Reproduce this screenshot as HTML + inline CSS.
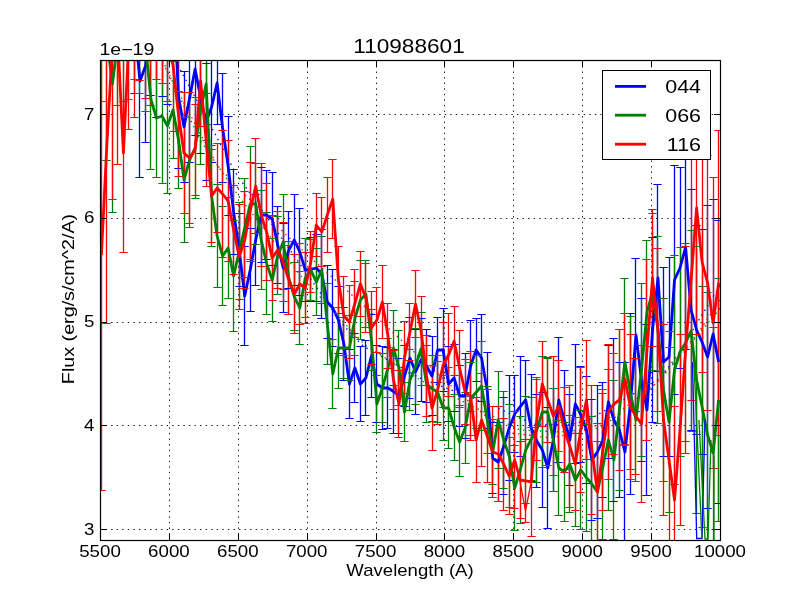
<!DOCTYPE html>
<html><head><meta charset="utf-8"><style>
html,body{margin:0;padding:0;background:#fff;}
svg{display:block;will-change:transform;}
text{font-family:"Liberation Sans",sans-serif;fill:#000;}
.tk{font-size:16px;}
.lg{font-size:19px;}
</style></head><body>
<svg width="800" height="600" viewBox="0 0 800 600">
<rect width="800" height="600" fill="#fff"/>
<defs><clipPath id="c"><rect x="100.0" y="60.0" width="620.0" height="480.0"/></clipPath></defs>
<path d="M169.5,540.0V60.0M238.5,540.0V60.0M307.5,540.0V60.0M376.5,540.0V60.0M444.5,540.0V60.0M513.5,540.0V60.0M582.5,540.0V60.0M651.5,540.0V60.0M100.0,529.5H720.0M100.0,425.5H720.0M100.0,322.5H720.0M100.0,218.5H720.0M100.0,114.5H720.0" stroke="#000" stroke-width="0.9" stroke-dasharray="1.4,4.16" fill="none"/>
<g clip-path="url(#c)">
<path d="M101.5,-156.5V-3.5M106.5,-161.5V11.5M112.5,-151.5V10.5M117.5,-154.5V22.5M123.5,-149.5V29.5M128.5,-90.5V50.5M134.5,-43.5V93.5M139.5,-15.5V177.5M145.5,-10.5V142.5M150.5,-55.5V95.5M156.5,-77.5V117.5M162.5,-56.5V96.5M167.5,-64.5V104.5M173.5,-90.5V50.5M178.5,25.5V168.5M184.5,71.5V182.5M189.5,33.5V162.5M195.5,2.5V135.5M200.5,42.5V153.5M206.5,63.5V180.5M211.5,51.5V162.5M217.5,41.5V124.5M222.5,73.5V182.5M228.5,116.5V215.5M233.5,169.5V254.5M239.5,213.5V286.5M244.5,246.5V345.5M250.5,228.5V311.5M255.5,194.5V285.5M261.5,167.5V262.5M266.5,170.5V259.5M272.5,172.5V265.5M277.5,206.5V283.5M283.5,223.5V312.5M288.5,211.5V288.5M294.5,194.5V285.5M299.5,208.5V295.5M305.5,238.5V301.5M310.5,237.5V301.5M316.5,234.5V301.5M321.5,229.5V318.5M327.5,265.5V338.5M332.5,269.5V346.5M338.5,286.5V353.5M343.5,307.5V380.5M349.5,349.5V418.5M354.5,333.5V402.5M360.5,346.5V421.5M365.5,340.5V415.5M371.5,314.5V397.5M376.5,345.5V422.5M382.5,346.5V429.5M387.5,347.5V428.5M393.5,349.5V433.5M398.5,358.5V433.5M404.5,345.5V406.5M409.5,317.5V398.5M415.5,329.5V414.5M421.5,318.5V401.5M426.5,329.5V402.5M432.5,336.5V415.5M437.5,317.5V382.5M443.5,308.5V391.5M448.5,346.5V421.5M454.5,344.5V411.5M459.5,365.5V426.5M465.5,353.5V438.5M470.5,320.5V411.5M476.5,318.5V381.5M481.5,314.5V401.5M487.5,352.5V428.5M492.5,422.5V493.5M498.5,422.5V501.5M503.5,397.5V494.5M509.5,375.5V480.5M514.5,375.5V452.5M520.5,356.5V456.5M525.5,360.5V439.5M531.5,374.5V481.5M536.5,394.5V487.5M542.5,392.5V507.5M547.5,407.5V528.5M553.5,388.5V491.5M558.5,337.5V462.5M564.5,370.5V469.5M569.5,394.5V485.5M575.5,344.5V463.5M580.5,366.5V462.5M586.5,376.5V483.5M591.5,399.5V520.5M597.5,385.5V518.5M602.5,382.5V497.5M608.5,345.5V458.5M613.5,338.5V501.5M619.5,362.5V497.5M624.5,362.5V541.5M630.5,313.5V494.5M635.5,258.5V411.5M641.5,298.5V461.5M646.5,324.5V495.5M652.5,237.5V422.5M657.5,184.5V371.5M663.5,267.5V456.5M669.5,257.5V456.5M674.5,165.5V394.5M680.5,167.5V368.5M685.5,144.5V349.5M691.5,189.5V430.5M696.5,225.5V434.5M702.5,229.5V454.5M707.5,205.5V508.5M713.5,199.5V468.5M718.5,220.5V503.5" stroke="#0000ff" stroke-width="1.3" fill="none"/>
<path d="M101.5,-41.5V101.5M106.5,-79.5V160.5M112.5,-43.5V212.5M117.5,-25.5V105.5M123.5,-61.5V101.5M128.5,-59.5V99.5M134.5,-39.5V79.5M139.5,-53.5V93.5M145.5,-21.5V111.5M150.5,30.5V169.5M156.5,58.5V177.5M162.5,48.5V183.5M167.5,58.5V193.5M173.5,61.5V158.5M178.5,91.5V188.5M184.5,117.5V242.5M189.5,92.5V227.5M195.5,97.5V198.5M200.5,55.5V164.5M206.5,27.5V140.5M211.5,145.5V246.5M217.5,184.5V287.5M222.5,206.5V305.5M228.5,197.5V298.5M233.5,220.5V331.5M239.5,202.5V299.5M244.5,178.5V277.5M250.5,146.5V261.5M255.5,163.5V244.5M261.5,190.5V289.5M266.5,212.5V314.5M272.5,238.5V321.5M277.5,216.5V294.5M283.5,194.5V289.5M288.5,241.5V314.5M294.5,262.5V330.5M299.5,271.5V344.5M305.5,238.5V317.5M310.5,239.5V300.5M316.5,248.5V315.5M321.5,236.5V303.5M327.5,283.5V364.5M332.5,339.5V408.5M338.5,307.5V388.5M343.5,317.5V378.5M349.5,315.5V380.5M354.5,281.5V355.5M360.5,260.5V339.5M365.5,260.5V327.5M371.5,309.5V370.5M376.5,375.5V432.5M382.5,353.5V422.5M387.5,338.5V397.5M393.5,310.5V385.5M398.5,330.5V405.5M404.5,382.5V441.5M409.5,349.5V410.5M415.5,328.5V404.5M421.5,312.5V385.5M426.5,345.5V422.5M432.5,355.5V421.5M437.5,361.5V422.5M443.5,375.5V440.5M448.5,367.5V448.5M454.5,394.5V460.5M459.5,407.5V476.5M465.5,392.5V463.5M470.5,362.5V435.5M476.5,355.5V428.5M481.5,341.5V430.5M487.5,386.5V453.5M492.5,419.5V484.5M498.5,371.5V468.5M503.5,391.5V488.5M509.5,404.5V507.5M514.5,445.5V530.5M520.5,416.5V523.5M525.5,396.5V503.5M531.5,397.5V480.5M536.5,377.5V482.5M542.5,356.5V467.5M547.5,358.5V465.5M553.5,388.5V491.5M558.5,420.5V515.5M564.5,422.5V521.5M569.5,415.5V512.5M575.5,433.5V526.5M580.5,410.5V529.5M586.5,424.5V531.5M591.5,416.5V551.5M597.5,441.5V542.5M602.5,393.5V539.5M608.5,369.5V510.5M613.5,380.5V539.5M619.5,329.5V490.5M624.5,278.5V445.5M630.5,316.5V469.5M635.5,358.5V481.5M641.5,283.5V456.5M646.5,240.5V383.5M652.5,213.5V370.5M657.5,236.5V423.5M663.5,298.5V481.5M669.5,331.5V512.5M674.5,255.5V484.5M680.5,247.5V456.5M685.5,243.5V441.5M691.5,230.5V431.5M696.5,246.5V513.5M702.5,286.5V527.5M707.5,292.5V577.5M713.5,327.5V578.5M718.5,278.5V521.5" stroke="#008000" stroke-width="1.3" fill="none"/>
<path d="M101.5,20.5V490.5M106.5,-36.5V323.5M112.5,-108.5V199.5M117.5,-83.5V164.5M123.5,54.5V252.5M128.5,-49.5V129.5M134.5,-52.5V117.5M139.5,-40.5V80.5M145.5,-58.5V98.5M150.5,-65.5V105.5M156.5,-39.5V79.5M162.5,-43.5V83.5M167.5,-21.5V101.5M173.5,-1.5V131.5M178.5,53.5V176.5M184.5,92.5V213.5M189.5,92.5V223.5M195.5,104.5V195.5M200.5,35.5V126.5M206.5,93.5V186.5M211.5,149.5V242.5M217.5,143.5V232.5M222.5,130.5V257.5M228.5,140.5V261.5M233.5,185.5V274.5M239.5,204.5V309.5M244.5,191.5V288.5M250.5,162.5V259.5M255.5,138.5V233.5M261.5,163.5V266.5M266.5,183.5V280.5M272.5,215.5V300.5M277.5,211.5V288.5M283.5,222.5V301.5M288.5,245.5V314.5M294.5,254.5V333.5M299.5,243.5V324.5M305.5,252.5V323.5M310.5,231.5V292.5M316.5,193.5V256.5M321.5,197.5V266.5M327.5,177.5V252.5M332.5,159.5V238.5M338.5,246.5V313.5M343.5,276.5V355.5M349.5,285.5V358.5M354.5,269.5V337.5M360.5,251.5V316.5M365.5,263.5V332.5M371.5,291.5V364.5M376.5,287.5V352.5M382.5,265.5V338.5M387.5,303.5V368.5M393.5,350.5V409.5M398.5,370.5V437.5M404.5,321.5V393.5M409.5,303.5V360.5M415.5,270.5V337.5M421.5,296.5V363.5M426.5,335.5V416.5M432.5,365.5V450.5M437.5,355.5V424.5M443.5,322.5V407.5M448.5,313.5V396.5M454.5,306.5V375.5M459.5,330.5V405.5M465.5,359.5V424.5M470.5,351.5V440.5M476.5,397.5V482.5M481.5,373.5V466.5M487.5,389.5V482.5M492.5,406.5V497.5M498.5,406.5V501.5M503.5,418.5V510.5M509.5,437.5V514.5M514.5,411.5V508.5M520.5,441.5V518.5M525.5,439.5V522.5M531.5,427.5V536.5M536.5,379.5V460.5M542.5,341.5V426.5M547.5,357.5V442.5M553.5,356.5V475.5M558.5,360.5V451.5M564.5,387.5V472.5M569.5,385.5V507.5M575.5,417.5V510.5M580.5,367.5V492.5M586.5,340.5V459.5M591.5,385.5V514.5M597.5,423.5V560.5M602.5,389.5V510.5M608.5,344.5V479.5M613.5,353.5V454.5M619.5,329.5V470.5M624.5,313.5V444.5M630.5,334.5V479.5M635.5,358.5V474.5M641.5,345.5V502.5M646.5,259.5V440.5M652.5,209.5V346.5M657.5,248.5V411.5M663.5,324.5V515.5M669.5,347.5V572.5M674.5,406.5V593.5M680.5,334.5V525.5M685.5,246.5V453.5M691.5,159.5V400.5M696.5,81.5V334.5M702.5,151.5V372.5M707.5,155.5V410.5M713.5,177.5V468.5M718.5,130.5V435.5" stroke="#ff0000" stroke-width="1.3" fill="none"/>
<path d="M160,30 L175,60 L214,132 L235,172 L290,250 L344,326 L363,346 L420,378 L493,406 L533,424 L570,425 L590,419 L620,402 L660,378 L680,352 L700,318 L710,302 L720,285" stroke="#0000ff" stroke-width="1.3" stroke-dasharray="1.4,4.2" fill="none"/>
<path d="M160,55 L200,140 L240,198 L300,275 L357,337 L365,345 L420,380 L470,405 L520,430 L560,432 L600,428 L640,400 L686,350 L700,332 L715,315 L720,308" stroke="#008000" stroke-width="1.3" stroke-dasharray="1.4,4.2" fill="none"/>
<path d="M160,58 L217,165 L240,190 L300,248 L373,314 L400,339 L450,385 L488,418 L512,433 L550,438 L580,432 L600,424 L626,407 L660,380 L700,330 L720,300" stroke="#ff0000" stroke-width="1.3" stroke-dasharray="1.4,4.2" fill="none"/>
<path d="M101.4,-80.0 L106.9,-74.7 L112.4,-70.5 L117.9,-66.2 L123.4,-60.0 L128.9,-20.0 L134.4,25.0 L140.0,81.0 L145.5,66.0 L151.0,20.0 L156.5,20.0 L162.0,20.0 L167.5,20.0 L173.0,-20.0 L178.5,97.0 L184.0,127.0 L189.6,98.0 L195.1,69.0 L200.6,98.0 L206.1,122.0 L211.6,107.0 L217.1,83.0 L222.6,128.0 L228.1,166.0 L233.6,212.0 L239.2,250.0 L244.7,296.0 L250.2,270.0 L255.7,240.0 L261.2,215.0 L266.7,215.0 L272.2,219.0 L277.7,245.0 L283.2,268.0 L288.8,250.0 L294.3,240.0 L299.8,252.0 L305.3,270.0 L310.8,269.3 L316.3,268.0 L321.8,274.0 L327.3,302.0 L332.8,308.0 L338.4,320.0 L343.9,344.0 L349.4,384.0 L354.9,368.0 L360.4,384.0 L365.9,378.0 L371.4,356.0 L376.9,384.0 L382.4,388.0 L388.0,388.0 L393.5,391.5 L399.0,396.0 L404.5,376.0 L410.0,358.0 L415.5,372.0 L421.0,360.0 L426.5,366.0 L432.0,376.0 L437.6,350.0 L443.1,350.0 L448.6,384.0 L454.1,378.0 L459.6,396.0 L465.1,396.0 L470.6,366.0 L476.1,350.0 L481.6,358.0 L487.2,390.6 L492.7,458.0 L498.2,462.0 L503.7,446.3 L509.2,428.0 L514.7,414.0 L520.2,406.6 L525.7,400.0 L531.2,428.0 L536.8,441.1 L542.3,450.0 L547.8,468.0 L553.3,440.0 L558.8,400.0 L564.3,420.0 L569.8,440.0 L575.3,404.0 L580.8,414.6 L586.4,430.0 L591.9,460.0 L597.4,452.0 L602.9,440.0 L608.4,402.0 L613.9,420.0 L619.4,430.0 L624.9,452.0 L630.4,404.0 L636.0,335.0 L641.5,380.0 L647.0,410.0 L652.5,330.0 L658.0,278.0 L663.5,362.0 L669.0,357.0 L674.5,280.0 L680.0,268.0 L685.6,247.0 L691.1,310.0 L696.6,330.0 L702.1,342.3 L707.6,357.0 L713.1,334.0 L718.6,362.0" stroke="#0000ff" stroke-width="2.8" fill="none" stroke-linejoin="round"/>
<path d="M97.35,-156.5h8.3M97.35,-3.5h8.3M102.35,-161.5h8.3M102.35,11.5h8.3M108.35,-151.5h8.3M108.35,10.5h8.3M113.35,-154.5h8.3M113.35,22.5h8.3M119.35,-149.5h8.3M119.35,29.5h8.3M124.35,-90.5h8.3M124.35,50.5h8.3M130.35,-43.5h8.3M130.35,93.5h8.3M135.35,-15.5h8.3M135.35,177.5h8.3M141.35,-10.5h8.3M141.35,142.5h8.3M146.35,-55.5h8.3M146.35,95.5h8.3M152.35,-77.5h8.3M152.35,117.5h8.3M158.35,-56.5h8.3M158.35,96.5h8.3M163.35,-64.5h8.3M163.35,104.5h8.3M169.35,-90.5h8.3M169.35,50.5h8.3M174.35,25.5h8.3M174.35,168.5h8.3M180.35,71.5h8.3M180.35,182.5h8.3M185.35,33.5h8.3M185.35,162.5h8.3M191.35,2.5h8.3M191.35,135.5h8.3M196.35,42.5h8.3M196.35,153.5h8.3M202.35,63.5h8.3M202.35,180.5h8.3M207.35,51.5h8.3M207.35,162.5h8.3M213.35,41.5h8.3M213.35,124.5h8.3M218.35,73.5h8.3M218.35,182.5h8.3M224.35,116.5h8.3M224.35,215.5h8.3M229.35,169.5h8.3M229.35,254.5h8.3M235.35,213.5h8.3M235.35,286.5h8.3M240.35,246.5h8.3M240.35,345.5h8.3M246.35,228.5h8.3M246.35,311.5h8.3M251.35,194.5h8.3M251.35,285.5h8.3M257.35,167.5h8.3M257.35,262.5h8.3M262.35,170.5h8.3M262.35,259.5h8.3M268.35,172.5h8.3M268.35,265.5h8.3M273.35,206.5h8.3M273.35,283.5h8.3M279.35,223.5h8.3M279.35,312.5h8.3M284.35,211.5h8.3M284.35,288.5h8.3M290.35,194.5h8.3M290.35,285.5h8.3M295.35,208.5h8.3M295.35,295.5h8.3M301.35,238.5h8.3M301.35,301.5h8.3M306.35,237.5h8.3M306.35,301.5h8.3M312.35,234.5h8.3M312.35,301.5h8.3M317.35,229.5h8.3M317.35,318.5h8.3M323.35,265.5h8.3M323.35,338.5h8.3M328.35,269.5h8.3M328.35,346.5h8.3M334.35,286.5h8.3M334.35,353.5h8.3M339.35,307.5h8.3M339.35,380.5h8.3M345.35,349.5h8.3M345.35,418.5h8.3M350.35,333.5h8.3M350.35,402.5h8.3M356.35,346.5h8.3M356.35,421.5h8.3M361.35,340.5h8.3M361.35,415.5h8.3M367.35,314.5h8.3M367.35,397.5h8.3M372.35,345.5h8.3M372.35,422.5h8.3M378.35,346.5h8.3M378.35,429.5h8.3M383.35,347.5h8.3M383.35,428.5h8.3M389.35,349.5h8.3M389.35,433.5h8.3M394.35,358.5h8.3M394.35,433.5h8.3M400.35,345.5h8.3M400.35,406.5h8.3M405.35,317.5h8.3M405.35,398.5h8.3M411.35,329.5h8.3M411.35,414.5h8.3M417.35,318.5h8.3M417.35,401.5h8.3M422.35,329.5h8.3M422.35,402.5h8.3M428.35,336.5h8.3M428.35,415.5h8.3M433.35,317.5h8.3M433.35,382.5h8.3M439.35,308.5h8.3M439.35,391.5h8.3M444.35,346.5h8.3M444.35,421.5h8.3M450.35,344.5h8.3M450.35,411.5h8.3M455.35,365.5h8.3M455.35,426.5h8.3M461.35,353.5h8.3M461.35,438.5h8.3M466.35,320.5h8.3M466.35,411.5h8.3M472.35,318.5h8.3M472.35,381.5h8.3M477.35,314.5h8.3M477.35,401.5h8.3M483.35,352.5h8.3M483.35,428.5h8.3M488.35,422.5h8.3M488.35,493.5h8.3M494.35,422.5h8.3M494.35,501.5h8.3M499.35,397.5h8.3M499.35,494.5h8.3M505.35,375.5h8.3M505.35,480.5h8.3M510.35,375.5h8.3M510.35,452.5h8.3M516.35,356.5h8.3M516.35,456.5h8.3M521.35,360.5h8.3M521.35,439.5h8.3M527.35,374.5h8.3M527.35,481.5h8.3M532.35,394.5h8.3M532.35,487.5h8.3M538.35,392.5h8.3M538.35,507.5h8.3M543.35,407.5h8.3M543.35,528.5h8.3M549.35,388.5h8.3M549.35,491.5h8.3M554.35,337.5h8.3M554.35,462.5h8.3M560.35,370.5h8.3M560.35,469.5h8.3M565.35,394.5h8.3M565.35,485.5h8.3M571.35,344.5h8.3M571.35,463.5h8.3M576.35,366.5h8.3M576.35,462.5h8.3M582.35,376.5h8.3M582.35,483.5h8.3M587.35,399.5h8.3M587.35,520.5h8.3M593.35,385.5h8.3M593.35,518.5h8.3M598.35,382.5h8.3M598.35,497.5h8.3M604.35,345.5h8.3M604.35,458.5h8.3M609.35,338.5h8.3M609.35,501.5h8.3M615.35,362.5h8.3M615.35,497.5h8.3M620.35,362.5h8.3M620.35,541.5h8.3M626.35,313.5h8.3M626.35,494.5h8.3M631.35,258.5h8.3M631.35,411.5h8.3M637.35,298.5h8.3M637.35,461.5h8.3M642.35,324.5h8.3M642.35,495.5h8.3M648.35,237.5h8.3M648.35,422.5h8.3M653.35,184.5h8.3M653.35,371.5h8.3M659.35,267.5h8.3M659.35,456.5h8.3M665.35,257.5h8.3M665.35,456.5h8.3M670.35,165.5h8.3M670.35,394.5h8.3M676.35,167.5h8.3M676.35,368.5h8.3M681.35,144.5h8.3M681.35,349.5h8.3M687.35,189.5h8.3M687.35,430.5h8.3M692.35,225.5h8.3M692.35,434.5h8.3M698.35,229.5h8.3M698.35,454.5h8.3M703.35,205.5h8.3M703.35,508.5h8.3M709.35,199.5h8.3M709.35,468.5h8.3M714.35,220.5h8.3M714.35,503.5h8.3" stroke="#0000ff" stroke-width="1" fill="none"/>
<path d="M101.4,30.0 L106.9,40.0 L112.4,84.0 L117.9,40.0 L123.4,20.0 L128.9,20.0 L134.4,20.0 L140.0,20.0 L145.5,45.0 L151.0,100.0 L156.5,118.0 L162.0,116.0 L167.5,126.0 L173.0,110.0 L178.5,140.0 L184.0,180.0 L189.6,160.0 L195.1,148.0 L200.6,110.0 L206.1,84.0 L211.6,196.0 L217.1,236.0 L222.6,256.0 L228.1,248.0 L233.6,276.0 L239.2,251.3 L244.7,228.0 L250.2,204.0 L255.7,204.0 L261.2,240.0 L266.7,263.6 L272.2,280.0 L277.7,255.5 L283.2,242.0 L288.8,278.0 L294.3,296.8 L299.8,308.0 L305.3,278.0 L310.8,270.0 L316.3,282.0 L321.8,270.0 L327.3,324.0 L332.8,374.0 L338.4,348.0 L343.9,348.0 L349.4,348.0 L354.9,318.7 L360.4,300.0 L365.9,294.0 L371.4,340.0 L376.9,404.0 L382.4,388.0 L388.0,368.2 L393.5,348.0 L399.0,368.0 L404.5,412.0 L410.0,380.0 L415.5,366.4 L421.0,349.0 L426.5,384.0 L432.0,388.6 L437.6,392.0 L443.1,408.0 L448.6,408.0 L454.1,427.2 L459.6,442.0 L465.1,428.0 L470.6,399.0 L476.1,392.2 L481.6,386.0 L487.2,420.0 L492.7,452.0 L498.2,420.0 L503.7,440.0 L509.2,456.0 L514.7,488.0 L520.2,470.0 L525.7,450.0 L531.2,439.2 L536.8,430.0 L542.3,412.0 L547.8,412.0 L553.3,440.0 L558.8,468.0 L564.3,472.0 L569.8,464.0 L575.3,480.0 L580.8,470.0 L586.4,477.6 L591.9,484.0 L597.4,492.0 L602.9,466.6 L608.4,440.0 L613.9,460.0 L619.4,410.0 L624.9,362.0 L630.4,393.0 L636.0,420.0 L641.5,370.0 L647.0,312.0 L652.5,292.0 L658.0,330.0 L663.5,390.0 L669.0,422.0 L674.5,370.0 L680.0,352.0 L685.6,342.7 L691.1,331.0 L696.6,380.0 L702.1,407.0 L707.6,435.0 L713.1,453.0 L718.6,400.0" stroke="#008000" stroke-width="2.8" fill="none" stroke-linejoin="round"/>
<path d="M97.35,-41.5h8.3M97.35,101.5h8.3M102.35,-79.5h8.3M102.35,160.5h8.3M108.35,-43.5h8.3M108.35,212.5h8.3M113.35,-25.5h8.3M113.35,105.5h8.3M119.35,-61.5h8.3M119.35,101.5h8.3M124.35,-59.5h8.3M124.35,99.5h8.3M130.35,-39.5h8.3M130.35,79.5h8.3M135.35,-53.5h8.3M135.35,93.5h8.3M141.35,-21.5h8.3M141.35,111.5h8.3M146.35,30.5h8.3M146.35,169.5h8.3M152.35,58.5h8.3M152.35,177.5h8.3M158.35,48.5h8.3M158.35,183.5h8.3M163.35,58.5h8.3M163.35,193.5h8.3M169.35,61.5h8.3M169.35,158.5h8.3M174.35,91.5h8.3M174.35,188.5h8.3M180.35,117.5h8.3M180.35,242.5h8.3M185.35,92.5h8.3M185.35,227.5h8.3M191.35,97.5h8.3M191.35,198.5h8.3M196.35,55.5h8.3M196.35,164.5h8.3M202.35,27.5h8.3M202.35,140.5h8.3M207.35,145.5h8.3M207.35,246.5h8.3M213.35,184.5h8.3M213.35,287.5h8.3M218.35,206.5h8.3M218.35,305.5h8.3M224.35,197.5h8.3M224.35,298.5h8.3M229.35,220.5h8.3M229.35,331.5h8.3M235.35,202.5h8.3M235.35,299.5h8.3M240.35,178.5h8.3M240.35,277.5h8.3M246.35,146.5h8.3M246.35,261.5h8.3M251.35,163.5h8.3M251.35,244.5h8.3M257.35,190.5h8.3M257.35,289.5h8.3M262.35,212.5h8.3M262.35,314.5h8.3M268.35,238.5h8.3M268.35,321.5h8.3M273.35,216.5h8.3M273.35,294.5h8.3M279.35,194.5h8.3M279.35,289.5h8.3M284.35,241.5h8.3M284.35,314.5h8.3M290.35,262.5h8.3M290.35,330.5h8.3M295.35,271.5h8.3M295.35,344.5h8.3M301.35,238.5h8.3M301.35,317.5h8.3M306.35,239.5h8.3M306.35,300.5h8.3M312.35,248.5h8.3M312.35,315.5h8.3M317.35,236.5h8.3M317.35,303.5h8.3M323.35,283.5h8.3M323.35,364.5h8.3M328.35,339.5h8.3M328.35,408.5h8.3M334.35,307.5h8.3M334.35,388.5h8.3M339.35,317.5h8.3M339.35,378.5h8.3M345.35,315.5h8.3M345.35,380.5h8.3M350.35,281.5h8.3M350.35,355.5h8.3M356.35,260.5h8.3M356.35,339.5h8.3M361.35,260.5h8.3M361.35,327.5h8.3M367.35,309.5h8.3M367.35,370.5h8.3M372.35,375.5h8.3M372.35,432.5h8.3M378.35,353.5h8.3M378.35,422.5h8.3M383.35,338.5h8.3M383.35,397.5h8.3M389.35,310.5h8.3M389.35,385.5h8.3M394.35,330.5h8.3M394.35,405.5h8.3M400.35,382.5h8.3M400.35,441.5h8.3M405.35,349.5h8.3M405.35,410.5h8.3M411.35,328.5h8.3M411.35,404.5h8.3M417.35,312.5h8.3M417.35,385.5h8.3M422.35,345.5h8.3M422.35,422.5h8.3M428.35,355.5h8.3M428.35,421.5h8.3M433.35,361.5h8.3M433.35,422.5h8.3M439.35,375.5h8.3M439.35,440.5h8.3M444.35,367.5h8.3M444.35,448.5h8.3M450.35,394.5h8.3M450.35,460.5h8.3M455.35,407.5h8.3M455.35,476.5h8.3M461.35,392.5h8.3M461.35,463.5h8.3M466.35,362.5h8.3M466.35,435.5h8.3M472.35,355.5h8.3M472.35,428.5h8.3M477.35,341.5h8.3M477.35,430.5h8.3M483.35,386.5h8.3M483.35,453.5h8.3M488.35,419.5h8.3M488.35,484.5h8.3M494.35,371.5h8.3M494.35,468.5h8.3M499.35,391.5h8.3M499.35,488.5h8.3M505.35,404.5h8.3M505.35,507.5h8.3M510.35,445.5h8.3M510.35,530.5h8.3M516.35,416.5h8.3M516.35,523.5h8.3M521.35,396.5h8.3M521.35,503.5h8.3M527.35,397.5h8.3M527.35,480.5h8.3M532.35,377.5h8.3M532.35,482.5h8.3M538.35,356.5h8.3M538.35,467.5h8.3M543.35,358.5h8.3M543.35,465.5h8.3M549.35,388.5h8.3M549.35,491.5h8.3M554.35,420.5h8.3M554.35,515.5h8.3M560.35,422.5h8.3M560.35,521.5h8.3M565.35,415.5h8.3M565.35,512.5h8.3M571.35,433.5h8.3M571.35,526.5h8.3M576.35,410.5h8.3M576.35,529.5h8.3M582.35,424.5h8.3M582.35,531.5h8.3M587.35,416.5h8.3M587.35,551.5h8.3M593.35,441.5h8.3M593.35,542.5h8.3M598.35,393.5h8.3M598.35,539.5h8.3M604.35,369.5h8.3M604.35,510.5h8.3M609.35,380.5h8.3M609.35,539.5h8.3M615.35,329.5h8.3M615.35,490.5h8.3M620.35,278.5h8.3M620.35,445.5h8.3M626.35,316.5h8.3M626.35,469.5h8.3M631.35,358.5h8.3M631.35,481.5h8.3M637.35,283.5h8.3M637.35,456.5h8.3M642.35,240.5h8.3M642.35,383.5h8.3M648.35,213.5h8.3M648.35,370.5h8.3M653.35,236.5h8.3M653.35,423.5h8.3M659.35,298.5h8.3M659.35,481.5h8.3M665.35,331.5h8.3M665.35,512.5h8.3M670.35,255.5h8.3M670.35,484.5h8.3M676.35,247.5h8.3M676.35,456.5h8.3M681.35,243.5h8.3M681.35,441.5h8.3M687.35,230.5h8.3M687.35,431.5h8.3M692.35,246.5h8.3M692.35,513.5h8.3M698.35,286.5h8.3M698.35,527.5h8.3M703.35,292.5h8.3M703.35,577.5h8.3M709.35,327.5h8.3M709.35,578.5h8.3M714.35,278.5h8.3M714.35,521.5h8.3" stroke="#008000" stroke-width="1" fill="none"/>
<path d="M101.4,255.0 L106.9,143.7 L112.4,45.0 L117.9,40.0 L123.4,153.0 L128.9,40.0 L134.4,32.3 L140.0,20.0 L145.5,20.0 L151.0,20.0 L156.5,20.0 L162.0,20.0 L167.5,40.0 L173.0,65.0 L178.5,115.0 L184.0,153.0 L189.6,158.0 L195.1,150.0 L200.6,81.0 L206.1,140.0 L211.6,196.0 L217.1,188.0 L222.6,194.0 L228.1,201.0 L233.6,230.0 L239.2,257.0 L244.7,240.0 L250.2,211.0 L255.7,186.0 L261.2,215.0 L266.7,232.3 L272.2,258.0 L277.7,250.0 L283.2,262.0 L288.8,280.0 L294.3,294.0 L299.8,284.0 L305.3,288.0 L310.8,262.0 L316.3,225.0 L321.8,232.0 L327.3,215.0 L332.8,199.0 L338.4,280.0 L343.9,316.0 L349.4,322.0 L354.9,303.4 L360.4,284.0 L365.9,298.0 L371.4,328.0 L376.9,320.0 L382.4,302.0 L388.0,336.0 L393.5,380.0 L399.0,404.0 L404.5,357.3 L410.0,332.0 L415.5,304.0 L421.0,330.0 L426.5,376.0 L432.0,408.0 L437.6,390.2 L443.1,365.0 L448.6,355.0 L454.1,341.0 L459.6,368.0 L465.1,392.0 L470.6,396.0 L476.1,440.0 L481.6,420.0 L487.2,436.0 L492.7,452.0 L498.2,454.0 L503.7,464.1 L509.2,476.0 L514.7,460.0 L520.2,480.0 L525.7,480.9 L531.2,482.0 L536.8,420.0 L542.3,384.0 L547.8,400.0 L553.3,416.0 L558.8,406.0 L564.3,430.0 L569.8,446.2 L575.3,464.0 L580.8,430.0 L586.4,400.0 L591.9,450.0 L597.4,492.0 L602.9,450.0 L608.4,412.0 L613.9,404.0 L619.4,400.0 L624.9,379.0 L630.4,407.0 L636.0,416.4 L641.5,424.0 L647.0,350.0 L652.5,278.0 L658.0,330.0 L663.5,420.0 L669.0,460.0 L674.5,500.0 L680.0,430.0 L685.6,350.0 L691.1,280.0 L696.6,208.0 L702.1,262.0 L707.6,283.0 L713.1,323.0 L718.6,283.0" stroke="#ff0000" stroke-width="2.8" fill="none" stroke-linejoin="round"/>
<path d="M97.35,20.5h8.3M97.35,490.5h8.3M102.35,-36.5h8.3M102.35,323.5h8.3M108.35,-108.5h8.3M108.35,199.5h8.3M113.35,-83.5h8.3M113.35,164.5h8.3M119.35,54.5h8.3M119.35,252.5h8.3M124.35,-49.5h8.3M124.35,129.5h8.3M130.35,-52.5h8.3M130.35,117.5h8.3M135.35,-40.5h8.3M135.35,80.5h8.3M141.35,-58.5h8.3M141.35,98.5h8.3M146.35,-65.5h8.3M146.35,105.5h8.3M152.35,-39.5h8.3M152.35,79.5h8.3M158.35,-43.5h8.3M158.35,83.5h8.3M163.35,-21.5h8.3M163.35,101.5h8.3M169.35,-1.5h8.3M169.35,131.5h8.3M174.35,53.5h8.3M174.35,176.5h8.3M180.35,92.5h8.3M180.35,213.5h8.3M185.35,92.5h8.3M185.35,223.5h8.3M191.35,104.5h8.3M191.35,195.5h8.3M196.35,35.5h8.3M196.35,126.5h8.3M202.35,93.5h8.3M202.35,186.5h8.3M207.35,149.5h8.3M207.35,242.5h8.3M213.35,143.5h8.3M213.35,232.5h8.3M218.35,130.5h8.3M218.35,257.5h8.3M224.35,140.5h8.3M224.35,261.5h8.3M229.35,185.5h8.3M229.35,274.5h8.3M235.35,204.5h8.3M235.35,309.5h8.3M240.35,191.5h8.3M240.35,288.5h8.3M246.35,162.5h8.3M246.35,259.5h8.3M251.35,138.5h8.3M251.35,233.5h8.3M257.35,163.5h8.3M257.35,266.5h8.3M262.35,183.5h8.3M262.35,280.5h8.3M268.35,215.5h8.3M268.35,300.5h8.3M273.35,211.5h8.3M273.35,288.5h8.3M279.35,222.5h8.3M279.35,301.5h8.3M284.35,245.5h8.3M284.35,314.5h8.3M290.35,254.5h8.3M290.35,333.5h8.3M295.35,243.5h8.3M295.35,324.5h8.3M301.35,252.5h8.3M301.35,323.5h8.3M306.35,231.5h8.3M306.35,292.5h8.3M312.35,193.5h8.3M312.35,256.5h8.3M317.35,197.5h8.3M317.35,266.5h8.3M323.35,177.5h8.3M323.35,252.5h8.3M328.35,159.5h8.3M328.35,238.5h8.3M334.35,246.5h8.3M334.35,313.5h8.3M339.35,276.5h8.3M339.35,355.5h8.3M345.35,285.5h8.3M345.35,358.5h8.3M350.35,269.5h8.3M350.35,337.5h8.3M356.35,251.5h8.3M356.35,316.5h8.3M361.35,263.5h8.3M361.35,332.5h8.3M367.35,291.5h8.3M367.35,364.5h8.3M372.35,287.5h8.3M372.35,352.5h8.3M378.35,265.5h8.3M378.35,338.5h8.3M383.35,303.5h8.3M383.35,368.5h8.3M389.35,350.5h8.3M389.35,409.5h8.3M394.35,370.5h8.3M394.35,437.5h8.3M400.35,321.5h8.3M400.35,393.5h8.3M405.35,303.5h8.3M405.35,360.5h8.3M411.35,270.5h8.3M411.35,337.5h8.3M417.35,296.5h8.3M417.35,363.5h8.3M422.35,335.5h8.3M422.35,416.5h8.3M428.35,365.5h8.3M428.35,450.5h8.3M433.35,355.5h8.3M433.35,424.5h8.3M439.35,322.5h8.3M439.35,407.5h8.3M444.35,313.5h8.3M444.35,396.5h8.3M450.35,306.5h8.3M450.35,375.5h8.3M455.35,330.5h8.3M455.35,405.5h8.3M461.35,359.5h8.3M461.35,424.5h8.3M466.35,351.5h8.3M466.35,440.5h8.3M472.35,397.5h8.3M472.35,482.5h8.3M477.35,373.5h8.3M477.35,466.5h8.3M483.35,389.5h8.3M483.35,482.5h8.3M488.35,406.5h8.3M488.35,497.5h8.3M494.35,406.5h8.3M494.35,501.5h8.3M499.35,418.5h8.3M499.35,510.5h8.3M505.35,437.5h8.3M505.35,514.5h8.3M510.35,411.5h8.3M510.35,508.5h8.3M516.35,441.5h8.3M516.35,518.5h8.3M521.35,439.5h8.3M521.35,522.5h8.3M527.35,427.5h8.3M527.35,536.5h8.3M532.35,379.5h8.3M532.35,460.5h8.3M538.35,341.5h8.3M538.35,426.5h8.3M543.35,357.5h8.3M543.35,442.5h8.3M549.35,356.5h8.3M549.35,475.5h8.3M554.35,360.5h8.3M554.35,451.5h8.3M560.35,387.5h8.3M560.35,472.5h8.3M565.35,385.5h8.3M565.35,507.5h8.3M571.35,417.5h8.3M571.35,510.5h8.3M576.35,367.5h8.3M576.35,492.5h8.3M582.35,340.5h8.3M582.35,459.5h8.3M587.35,385.5h8.3M587.35,514.5h8.3M593.35,423.5h8.3M593.35,560.5h8.3M598.35,389.5h8.3M598.35,510.5h8.3M604.35,344.5h8.3M604.35,479.5h8.3M609.35,353.5h8.3M609.35,454.5h8.3M615.35,329.5h8.3M615.35,470.5h8.3M620.35,313.5h8.3M620.35,444.5h8.3M626.35,334.5h8.3M626.35,479.5h8.3M631.35,358.5h8.3M631.35,474.5h8.3M637.35,345.5h8.3M637.35,502.5h8.3M642.35,259.5h8.3M642.35,440.5h8.3M648.35,209.5h8.3M648.35,346.5h8.3M653.35,248.5h8.3M653.35,411.5h8.3M659.35,324.5h8.3M659.35,515.5h8.3M665.35,347.5h8.3M665.35,572.5h8.3M670.35,406.5h8.3M670.35,593.5h8.3M676.35,334.5h8.3M676.35,525.5h8.3M681.35,246.5h8.3M681.35,453.5h8.3M687.35,159.5h8.3M687.35,400.5h8.3M692.35,81.5h8.3M692.35,334.5h8.3M698.35,151.5h8.3M698.35,372.5h8.3M703.35,155.5h8.3M703.35,410.5h8.3M709.35,177.5h8.3M709.35,468.5h8.3M714.35,130.5h8.3M714.35,435.5h8.3" stroke="#ff0000" stroke-width="1" fill="none"/>
<path d="M692.5,362L696.7,538.5L702,538.5L705,420" stroke="#0000ff" stroke-width="1.3" fill="none"/>
<path d="M519.7,480L525.5,511L531,483" stroke="#ff0000" stroke-width="1.3" fill="none"/>
<path d="M694,365L701.9,538.5M699,420L705,539L708,539L711,440M714,455V540" stroke="#008000" stroke-width="1.3" fill="none"/>
</g>
<path d="M100.5,540.5v-6.5M100.5,60.5v6.5M169.5,540.5v-6.5M169.5,60.5v6.5M238.5,540.5v-6.5M238.5,60.5v6.5M307.5,540.5v-6.5M307.5,60.5v6.5M376.5,540.5v-6.5M376.5,60.5v6.5M444.5,540.5v-6.5M444.5,60.5v6.5M513.5,540.5v-6.5M513.5,60.5v6.5M582.5,540.5v-6.5M582.5,60.5v6.5M651.5,540.5v-6.5M651.5,60.5v6.5M720.5,540.5v-6.5M720.5,60.5v6.5M100.5,529.5h6.5M720.5,529.5h-6.5M100.5,425.5h6.5M720.5,425.5h-6.5M100.5,322.5h6.5M720.5,322.5h-6.5M100.5,218.5h6.5M720.5,218.5h-6.5M100.5,114.5h6.5M720.5,114.5h-6.5" stroke="#000" stroke-width="1" fill="none"/>
<rect x="100.5" y="60.5" width="620.0" height="480.0" fill="none" stroke="#000" stroke-width="1.2"/>
<text transform="translate(100.00,556.6) scale(1.169,1)" text-anchor="middle" class="tk">5500</text><text transform="translate(168.89,556.6) scale(1.169,1)" text-anchor="middle" class="tk">6000</text><text transform="translate(237.78,556.6) scale(1.169,1)" text-anchor="middle" class="tk">6500</text><text transform="translate(306.67,556.6) scale(1.169,1)" text-anchor="middle" class="tk">7000</text><text transform="translate(375.56,556.6) scale(1.169,1)" text-anchor="middle" class="tk">7500</text><text transform="translate(444.44,556.6) scale(1.169,1)" text-anchor="middle" class="tk">8000</text><text transform="translate(513.33,556.6) scale(1.169,1)" text-anchor="middle" class="tk">8500</text><text transform="translate(582.22,556.6) scale(1.169,1)" text-anchor="middle" class="tk">9000</text><text transform="translate(651.11,556.6) scale(1.169,1)" text-anchor="middle" class="tk">9500</text><text transform="translate(720.00,556.6) scale(1.169,1)" text-anchor="middle" class="tk">10000</text><text transform="translate(94.3,534.62) scale(1.169,1)" text-anchor="end" class="tk">3</text><text transform="translate(94.3,430.86) scale(1.169,1)" text-anchor="end" class="tk">4</text><text transform="translate(94.3,327.10) scale(1.169,1)" text-anchor="end" class="tk">5</text><text transform="translate(94.3,223.34) scale(1.169,1)" text-anchor="end" class="tk">6</text><text transform="translate(94.3,119.57) scale(1.169,1)" text-anchor="end" class="tk">7</text>
<rect x="602.5" y="70.5" width="108" height="89" fill="#fff" stroke="#000" stroke-width="1"/>
<path d="M615,86.4h31" stroke="#0000ff" stroke-width="2.8"/>
<path d="M615,115.2h31" stroke="#008000" stroke-width="2.8"/>
<path d="M615,144.2h31" stroke="#ff0000" stroke-width="2.8"/>
<text transform="translate(701,93) scale(1.129,1)" text-anchor="end" class="lg">044</text>
<text transform="translate(701,122) scale(1.129,1)" text-anchor="end" class="lg">066</text>
<text transform="translate(701,151) scale(1.129,1)" text-anchor="end" class="lg">116</text>
<text transform="translate(409,53) scale(1.16,1)" text-anchor="middle" style="font-size:19.5px">110988601</text>
<text transform="translate(99.5,55) scale(1.22,1)" class="tk">1e&#8722;19</text>
<text transform="translate(410,576) scale(1.161,1)" text-anchor="middle" class="tk">Wavelength (A)</text>
<text transform="translate(73.75,299) rotate(-90) scale(1.233,1)" text-anchor="middle" class="tk">Flux (erg/s/cm^2/A)</text>
</svg>
</body></html>
